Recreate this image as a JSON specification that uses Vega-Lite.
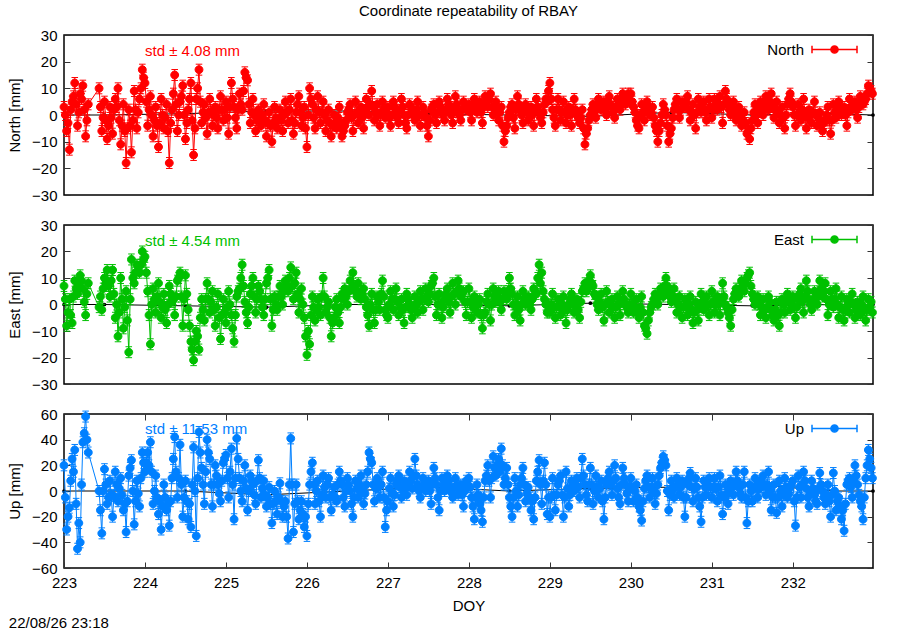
{
"$schema": "https://vega.github.io/schema/vega-lite/v6.json",
"background": "white",
"padding": {"left": 6, "top": 3, "right": 20, "bottom": 2},
"title": {"text": "22/08/26 23:18", "orient": "bottom", "anchor": "start", "frame": "bounds", "fontSize": 15, "fontWeight": "normal", "color": "#000", "offset": 2, "dx": 2},
"config": {
  "font": "Liberation Sans",
  "view": {"stroke": "#000", "strokeWidth": 1.5},
  "axis": {"labelFontSize": 15, "titleFontSize": 15, "titleFontWeight": "normal", "labelColor": "#000", "titleColor": "#000", "grid": false, "domain": false, "tickSize": -6, "tickColor": "#333", "tickWidth": 1, "labelPadding": 13, "titlePadding": 9, "labelFlush": false, "labelFont": "Liberation Sans", "titleFont": "Liberation Sans"},
  "legend": {"title": null, "orient": "none", "legendX": 747, "legendY": -9, "padding": 0, "symbolType": "M-1,0H1M-1,-0.17V0.17M1,-0.17V0.17M-0.16,0A0.16,0.16,0,1,0,0.16,0A0.16,0.16,0,1,0,-0.16,0Z", "symbolSize": 2025, "symbolStrokeWidth": 1.5, "labelFontSize": 15, "labelFont": "Liberation Sans", "labelColor": "#000", "labelAlign": "right", "labelOffset": -54},
  "concat": {"spacing": 30}
},
"bounds": "flush",
"resolve": {"scale": {"color": "independent"}, "legend": {"color": "independent"}},
"datasets": {
"ref": [{"t":223,"n":0,"e":0,"u":0},{"t":223.5,"n":0,"e":0,"u":0},{"t":224.5,"n":0.5,"e":-0.5,"u":0},{"t":225.5,"n":1.5,"e":-1,"u":-3},{"t":226.5,"n":1.5,"e":0,"u":0},{"t":227.5,"n":0.5,"e":0,"u":3},{"t":228.5,"n":0,"e":-0.5,"u":0},{"t":229.5,"n":-0.5,"e":0.5,"u":2},{"t":230.5,"n":1,"e":0,"u":3},{"t":231.5,"n":0,"e":-0.5,"u":5},{"t":232.5,"n":0.5,"e":0,"u":0},{"t":232.99,"n":0,"e":0,"u":0}],
"main": [
{"t":223.000,"n":3,"e":7,"u":20},{"t":223.017,"n":0,"e":2,"u":-5},{"t":223.033,"n":-6,"e":-8,"u":-30},{"t":223.050,"n":-3,"e":-3,"u":-20},{"t":223.067,"n":-13,"e":2,"u":-13},{"t":223.083,"n":2,"e":-4,"u":8},{"t":223.100,"n":5,"e":-7,"u":25},{"t":223.117,"n":7,"e":3,"u":15},{"t":223.133,"n":12,"e":9,"u":32},{"t":223.150,"n":4,"e":6,"u":-10},{"t":223.167,"n":-4,"e":4,"u":-45},{"t":223.183,"n":1,"e":8,"u":-25},{"t":223.200,"n":8,"e":11,"u":-40},{"t":223.217,"n":6,"e":9,"u":5},{"t":223.233,"n":11,"e":6,"u":38},{"t":223.250,"n":2,"e":1,"u":45},{"t":223.267,"n":-8,"e":-4,"u":58},{"t":223.283,"n":-2,"e":4,"u":40},{"t":223.300,"n":4,"e":8,"u":30},
{"t":223.433,"n":10,"e":-1,"u":0},{"t":223.450,"n":3,"e":3,"u":-15},{"t":223.467,"n":-6,"e":-2,"u":-33},{"t":223.483,"n":-1,"e":6,"u":0},{"t":223.500,"n":5,"e":10,"u":17},{"t":223.517,"n":-2,"e":8,"u":5},{"t":223.533,"n":-9,"e":13,"u":-10},{"t":223.550,"n":-4,"e":7,"u":-5},{"t":223.567,"n":3,"e":3,"u":8},{"t":223.583,"n":-1,"e":9,"u":-3},{"t":223.600,"n":-7,"e":13,"u":-20},{"t":223.617,"n":2,"e":4,"u":-4},{"t":223.633,"n":6,"e":-5,"u":15},{"t":223.650,"n":3,"e":0,"u":5},{"t":223.667,"n":10,"e":-12,"u":-8},{"t":223.683,"n":-2,"e":-3,"u":2},{"t":223.700,"n":-11,"e":10,"u":10},{"t":223.717,"n":-4,"e":2,"u":-3},{"t":223.733,"n":4,"e":-9,"u":-15},{"t":223.750,"n":-6,"e":-1,"u":-10},{"t":223.767,"n":-18,"e":5,"u":-32},{"t":223.783,"n":-5,"e":-6,"u":-8},{"t":223.800,"n":2,"e":-18,"u":12},{"t":223.817,"n":-4,"e":2,"u":18},{"t":223.833,"n":-14,"e":17,"u":24},{"t":223.850,"n":-2,"e":10,"u":0},{"t":223.867,"n":9,"e":8,"u":-26},{"t":223.883,"n":2,"e":12,"u":-8},{"t":223.900,"n":-5,"e":15,"u":8},{"t":223.917,"n":1,"e":13,"u":-2},{"t":223.933,"n":6,"e":12,"u":-12},{"t":223.950,"n":10,"e":15,"u":10},{"t":223.967,"n":17,"e":20,"u":30},{"t":223.983,"n":14,"e":17,"u":22},
{"t":224.000,"n":12,"e":18,"u":15},{"t":224.017,"n":5,"e":12,"u":22},{"t":224.033,"n":-4,"e":5,"u":30},{"t":224.050,"n":2,"e":-4,"u":20},{"t":224.067,"n":7,"e":-15,"u":38},{"t":224.083,"n":0,"e":0,"u":15},{"t":224.100,"n":-8,"e":6,"u":-10},{"t":224.117,"n":-2,"e":2,"u":0},{"t":224.133,"n":3,"e":-3,"u":12},{"t":224.150,"n":-4,"e":3,"u":-5},{"t":224.167,"n":-12,"e":8,"u":-18},{"t":224.183,"n":-3,"e":1,"u":-8},{"t":224.200,"n":6,"e":-5,"u":-30},{"t":224.217,"n":0,"e":-1,"u":-12},{"t":224.233,"n":-5,"e":4,"u":5},{"t":224.250,"n":-1,"e":-2,"u":-5},{"t":224.267,"n":4,"e":-7,"u":-15},{"t":224.283,"n":-6,"e":0,"u":-10},{"t":224.300,"n":-18,"e":7,"u":-27},{"t":224.317,"n":-3,"e":4,"u":-8},{"t":224.333,"n":2,"e":1,"u":10},{"t":224.350,"n":8,"e":2,"u":25},{"t":224.367,"n":15,"e":-4,"u":42},{"t":224.383,"n":4,"e":3,"u":15},{"t":224.400,"n":-6,"e":9,"u":-5},{"t":224.417,"n":0,"e":10,"u":10},{"t":224.433,"n":5,"e":12,"u":36},{"t":224.450,"n":7,"e":3,"u":5},{"t":224.467,"n":11,"e":-8,"u":-20},{"t":224.483,"n":0,"e":2,"u":-5},{"t":224.500,"n":-9,"e":11,"u":8},{"t":224.517,"n":-3,"e":4,"u":-8},{"t":224.533,"n":2,"e":-2,"u":-22},{"t":224.550,"n":6,"e":-8,"u":-10},{"t":224.567,"n":12,"e":-14,"u":-28},{"t":224.583,"n":-2,"e":-17,"u":5},{"t":224.600,"n":-15,"e":-21,"u":34},{"t":224.617,"n":-5,"e":-14,"u":0},{"t":224.633,"n":6,"e":-10,"u":-35},{"t":224.650,"n":10,"e":-12,"u":10},{"t":224.667,"n":17,"e":-17,"u":46},{"t":224.683,"n":5,"e":-5,"u":30},{"t":224.700,"n":-3,"e":2,"u":18},{"t":224.717,"n":1,"e":-2,"u":5},{"t":224.733,"n":4,"e":-6,"u":-10},{"t":224.750,"n":-1,"e":2,"u":15},{"t":224.767,"n":-7,"e":8,"u":40},{"t":224.783,"n":1,"e":2,"u":30},{"t":224.800,"n":6,"e":-3,"u":25},{"t":224.817,"n":1,"e":1,"u":5},{"t":224.833,"n":-4,"e":5,"u":-12},{"t":224.850,"n":0,"e":-2,"u":5},{"t":224.867,"n":3,"e":-8,"u":20},{"t":224.883,"n":-1,"e":-1,"u":12},{"t":224.900,"n":-5,"e":4,"u":5},{"t":224.917,"n":2,"e":-5,"u":-2},{"t":224.933,"n":7,"e":-13,"u":-8},{"t":224.950,"n":2,"e":-4,"u":8},{"t":224.967,"n":-2,"e":2,"u":22},{"t":224.983,"n":2,"e":-3,"u":25},
{"t":225.000,"n":5,"e":-7,"u":28},{"t":225.017,"n":-1,"e":-1,"u":10},{"t":225.033,"n":-7,"e":5,"u":-5},{"t":225.050,"n":3,"e":0,"u":15},{"t":225.067,"n":12,"e":-4,"u":33},{"t":225.083,"n":6,"e":-9,"u":5},{"t":225.100,"n":3,"e":-14,"u":-22},{"t":225.117,"n":-1,"e":-4,"u":10},{"t":225.133,"n":-5,"e":3,"u":41},{"t":225.150,"n":2,"e":5,"u":25},{"t":225.167,"n":8,"e":6,"u":10},{"t":225.183,"n":4,"e":10,"u":0},{"t":225.200,"n":2,"e":15,"u":-8},{"t":225.217,"n":9,"e":7,"u":8},{"t":225.233,"n":16,"e":1,"u":20},{"t":225.250,"n":14,"e":-3,"u":2},{"t":225.267,"n":13,"e":-7,"u":-15},{"t":225.283,"n":4,"e":-1,"u":0},{"t":225.300,"n":-3,"e":4,"u":12},{"t":225.317,"n":1,"e":7,"u":8},{"t":225.333,"n":6,"e":10,"u":5},{"t":225.350,"n":0,"e":3,"u":-3},{"t":225.367,"n":-6,"e":-3,"u":-10},{"t":225.383,"n":-2,"e":2,"u":8},{"t":225.400,"n":2,"e":7,"u":24},{"t":225.417,"n":-1,"e":5,"u":10},{"t":225.433,"n":-4,"e":2,"u":-5},{"t":225.450,"n":0,"e":-1,"u":2},{"t":225.467,"n":4,"e":-4,"u":8},{"t":225.483,"n":-2,"e":2,"u":-3},{"t":225.500,"n":-8,"e":8,"u":-12},{"t":225.517,"n":-3,"e":10,"u":-5},{"t":225.533,"n":1,"e":13,"u":3},{"t":225.550,"n":-4,"e":2,"u":-10},{"t":225.567,"n":-10,"e":-8,"u":-25},{"t":225.583,"n":-3,"e":-2,"u":-10},{"t":225.600,"n":3,"e":3,"u":0},{"t":225.617,"n":-1,"e":0,"u":-8},{"t":225.633,"n":-5,"e":-2,"u":-18},{"t":225.650,"n":-2,"e":3,"u":-5},{"t":225.667,"n":2,"e":7,"u":6},{"t":225.683,"n":-2,"e":3,"u":-8},{"t":225.700,"n":-6,"e":0,"u":-20},{"t":225.717,"n":0,"e":5,"u":-12},{"t":225.733,"n":5,"e":9,"u":-8},{"t":225.750,"n":1,"e":7,"u":-20},{"t":225.767,"n":-3,"e":5,"u":-37},{"t":225.783,"n":2,"e":10,"u":5},{"t":225.800,"n":6,"e":14,"u":41},{"t":225.817,"n":-2,"e":7,"u":5},{"t":225.833,"n":-7,"e":2,"u":-32},{"t":225.850,"n":-3,"e":8,"u":-10},{"t":225.867,"n":1,"e":12,"u":5},{"t":225.883,"n":4,"e":4,"u":-8},{"t":225.900,"n":7,"e":-3,"u":-22},{"t":225.917,"n":1,"e":2,"u":-15},{"t":225.933,"n":-4,"e":6,"u":-8},{"t":225.950,"n":-1,"e":0,"u":-18},{"t":225.967,"n":3,"e":-5,"u":-28},{"t":225.983,"n":-5,"e":-12,"u":-20},
{"t":226.000,"n":-12,"e":-19,"u":-35},{"t":226.017,"n":0,"e":-10,"u":-10},{"t":226.033,"n":10,"e":-15,"u":5},{"t":226.050,"n":6,"e":-4,"u":15},{"t":226.067,"n":4,"e":3,"u":22},{"t":226.083,"n":-1,"e":-1,"u":5},{"t":226.100,"n":-5,"e":-6,"u":-10},{"t":226.117,"n":2,"e":-2,"u":0},{"t":226.133,"n":7,"e":2,"u":8},{"t":226.150,"n":1,"e":-1,"u":-8},{"t":226.167,"n":-3,"e":-4,"u":-20},{"t":226.183,"n":1,"e":3,"u":-3},{"t":226.200,"n":5,"e":10,"u":12},{"t":226.217,"n":0,"e":3,"u":3},{"t":226.233,"n":-6,"e":-3,"u":-5},{"t":226.250,"n":-2,"e":-1,"u":5},{"t":226.267,"n":2,"e":1,"u":10},{"t":226.283,"n":-3,"e":-5,"u":-5},{"t":226.300,"n":-8,"e":-12,"u":-15},{"t":226.317,"n":-4,"e":-7,"u":-3},{"t":226.333,"n":0,"e":-5,"u":3},{"t":226.350,"n":-3,"e":-1,"u":-5},{"t":226.367,"n":-5,"e":2,"u":-8},{"t":226.383,"n":-1,"e":-3,"u":5},{"t":226.400,"n":3,"e":-7,"u":15},{"t":226.417,"n":-3,"e":-1,"u":8},{"t":226.433,"n":-8,"e":4,"u":5},{"t":226.450,"n":-6,"e":2,"u":-5},{"t":226.467,"n":-4,"e":6,"u":-12},{"t":226.483,"n":-2,"e":3,"u":0},{"t":226.500,"n":1,"e":0,"u":10},{"t":226.517,"n":2,"e":5,"u":5},{"t":226.533,"n":4,"e":9,"u":0},{"t":226.550,"n":-1,"e":6,"u":-10},{"t":226.567,"n":-6,"e":12,"u":-20},{"t":226.583,"n":0,"e":7,"u":-5},{"t":226.600,"n":5,"e":5,"u":8},{"t":226.617,"n":1,"e":3,"u":2},{"t":226.633,"n":-3,"e":8,"u":-5},{"t":226.650,"n":0,"e":4,"u":5},{"t":226.667,"n":3,"e":2,"u":12},{"t":226.683,"n":-1,"e":4,"u":0},{"t":226.700,"n":-5,"e":6,"u":-10},{"t":226.717,"n":1,"e":2,"u":-2},{"t":226.733,"n":6,"e":-1,"u":5},{"t":226.750,"n":3,"e":-4,"u":15},{"t":226.767,"n":0,"e":-8,"u":30},{"t":226.783,"n":4,"e":0,"u":25},{"t":226.800,"n":9,"e":4,"u":22},{"t":226.817,"n":3,"e":-2,"u":5},{"t":226.833,"n":-2,"e":-7,"u":-8},{"t":226.850,"n":1,"e":-2,"u":2},{"t":226.867,"n":4,"e":3,"u":10},{"t":226.883,"n":0,"e":1,"u":3},{"t":226.900,"n":-4,"e":-2,"u":-5},{"t":226.917,"n":1,"e":4,"u":5},{"t":226.933,"n":5,"e":9,"u":15},{"t":226.950,"n":2,"e":3,"u":-5},{"t":226.967,"n":-1,"e":-2,"u":-28},{"t":226.983,"n":1,"e":-4,"u":-15},
{"t":227.000,"n":3,"e":-5,"u":-8},{"t":227.017,"n":-1,"e":0,"u":2},{"t":227.033,"n":-4,"e":5,"u":10},{"t":227.050,"n":0,"e":2,"u":-2},{"t":227.067,"n":5,"e":-2,"u":-12},{"t":227.083,"n":3,"e":2,"u":-3},{"t":227.100,"n":1,"e":6,"u":5},{"t":227.117,"n":-1,"e":1,"u":8},{"t":227.133,"n":-3,"e":-4,"u":12},{"t":227.150,"n":2,"e":-1,"u":3},{"t":227.167,"n":6,"e":2,"u":-5},{"t":227.183,"n":3,"e":-2,"u":2},{"t":227.200,"n":0,"e":-7,"u":8},{"t":227.217,"n":-3,"e":-1,"u":2},{"t":227.233,"n":-5,"e":4,"u":-3},{"t":227.250,"n":0,"e":2,"u":5},{"t":227.267,"n":4,"e":0,"u":15},{"t":227.283,"n":3,"e":-2,"u":8},{"t":227.300,"n":2,"e":-5,"u":2},{"t":227.317,"n":0,"e":-1,"u":12},{"t":227.333,"n":-2,"e":3,"u":25},{"t":227.350,"n":2,"e":0,"u":12},{"t":227.367,"n":5,"e":-3,"u":5},{"t":227.383,"n":0,"e":1,"u":0},{"t":227.400,"n":-4,"e":5,"u":-5},{"t":227.417,"n":0,"e":2,"u":3},{"t":227.433,"n":3,"e":-2,"u":10},{"t":227.450,"n":1,"e":2,"u":5},{"t":227.467,"n":-1,"e":6,"u":0},{"t":227.483,"n":-4,"e":3,"u":4},{"t":227.500,"n":-8,"e":1,"u":8},{"t":227.517,"n":-2,"e":4,"u":0},{"t":227.533,"n":2,"e":7,"u":-10},{"t":227.550,"n":3,"e":8,"u":5},{"t":227.567,"n":4,"e":10,"u":18},{"t":227.583,"n":0,"e":3,"u":10},{"t":227.600,"n":-3,"e":-4,"u":5},{"t":227.617,"n":1,"e":0,"u":-5},{"t":227.633,"n":5,"e":4,"u":-15},{"t":227.650,"n":3,"e":0,"u":0},{"t":227.667,"n":1,"e":-5,"u":10},{"t":227.683,"n":0,"e":-1,"u":5},{"t":227.700,"n":-2,"e":2,"u":0},{"t":227.717,"n":2,"e":4,"u":6},{"t":227.733,"n":6,"e":6,"u":12},{"t":227.750,"n":4,"e":1,"u":8},{"t":227.767,"n":3,"e":-3,"u":3},{"t":227.783,"n":0,"e":3,"u":-1},{"t":227.800,"n":-3,"e":8,"u":-5},{"t":227.817,"n":2,"e":4,"u":3},{"t":227.833,"n":7,"e":0,"u":10},{"t":227.850,"n":4,"e":5,"u":4},{"t":227.867,"n":1,"e":9,"u":-3},{"t":227.883,"n":0,"e":6,"u":2},{"t":227.900,"n":-2,"e":3,"u":5},{"t":227.917,"n":2,"e":4,"u":-3},{"t":227.933,"n":5,"e":5,"u":-12},{"t":227.950,"n":3,"e":1,"u":0},{"t":227.967,"n":2,"e":-4,"u":8},{"t":227.983,"n":3,"e":1,"u":5},
{"t":228.000,"n":4,"e":6,"u":10},{"t":228.017,"n":1,"e":1,"u":3},{"t":228.033,"n":-2,"e":-5,"u":-5},{"t":228.050,"n":3,"e":-1,"u":-12},{"t":228.067,"n":6,"e":3,"u":-22},{"t":228.083,"n":4,"e":0,"u":-5},{"t":228.100,"n":1,"e":-3,"u":5},{"t":228.117,"n":3,"e":0,"u":-3},{"t":228.133,"n":5,"e":2,"u":-10},{"t":228.150,"n":1,"e":-4,"u":-15},{"t":228.167,"n":-3,"e":-9,"u":-24},{"t":228.183,"n":3,"e":-4,"u":-5},{"t":228.200,"n":7,"e":-3,"u":8},{"t":228.217,"n":5,"e":1,"u":12},{"t":228.233,"n":3,"e":4,"u":20},{"t":228.250,"n":6,"e":0,"u":8},{"t":228.267,"n":8,"e":-6,"u":-5},{"t":228.283,"n":3,"e":0,"u":10},{"t":228.300,"n":0,"e":6,"u":27},{"t":228.317,"n":3,"e":3,"u":18},{"t":228.333,"n":5,"e":1,"u":12},{"t":228.350,"n":1,"e":3,"u":20},{"t":228.367,"n":-2,"e":5,"u":25},{"t":228.383,"n":1,"e":1,"u":15},{"t":228.400,"n":3,"e":-2,"u":33},{"t":228.417,"n":-4,"e":2,"u":20},{"t":228.433,"n":-10,"e":5,"u":5},{"t":228.450,"n":-6,"e":3,"u":10},{"t":228.467,"n":-4,"e":2,"u":18},{"t":228.483,"n":-1,"e":5,"u":5},{"t":228.500,"n":1,"e":10,"u":-5},{"t":228.517,"n":3,"e":6,"u":-12},{"t":228.533,"n":4,"e":4,"u":-20},{"t":228.550,"n":-1,"e":0,"u":-5},{"t":228.567,"n":-5,"e":-4,"u":10},{"t":228.583,"n":2,"e":0,"u":0},{"t":228.600,"n":7,"e":3,"u":-12},{"t":228.617,"n":4,"e":-2,"u":-3},{"t":228.633,"n":2,"e":-6,"u":5},{"t":228.650,"n":0,"e":0,"u":10},{"t":228.667,"n":-3,"e":5,"u":18},{"t":228.683,"n":1,"e":2,"u":5},{"t":228.700,"n":4,"e":0,"u":-8},{"t":228.717,"n":1,"e":2,"u":-2},{"t":228.733,"n":-2,"e":3,"u":3},{"t":228.750,"n":0,"e":0,"u":-5},{"t":228.767,"n":3,"e":-2,"u":-15},{"t":228.783,"n":0,"e":2,"u":-8},{"t":228.800,"n":-4,"e":6,"u":-22},{"t":228.817,"n":2,"e":5,"u":-5},{"t":228.833,"n":6,"e":4,"u":8},{"t":228.850,"n":3,"e":10,"u":15},{"t":228.867,"n":1,"e":15,"u":24},{"t":228.883,"n":-1,"e":8,"u":5},{"t":228.900,"n":-3,"e":12,"u":-10},{"t":228.917,"n":1,"e":5,"u":8},{"t":228.933,"n":4,"e":2,"u":22},{"t":228.950,"n":6,"e":0,"u":5},{"t":228.967,"n":5,"e":-3,"u":-18},{"t":228.983,"n":9,"e":0,"u":-5},
{"t":229.000,"n":12,"e":-3,"u":-20},{"t":229.017,"n":6,"e":0,"u":-5},{"t":229.033,"n":2,"e":4,"u":10},{"t":229.050,"n":-1,"e":-1,"u":-3},{"t":229.067,"n":-4,"e":-5,"u":-15},{"t":229.083,"n":2,"e":-1,"u":-3},{"t":229.100,"n":6,"e":2,"u":5},{"t":229.117,"n":2,"e":-1,"u":8},{"t":229.133,"n":-2,"e":-4,"u":12},{"t":229.150,"n":1,"e":0,"u":-3},{"t":229.167,"n":5,"e":3,"u":-20},{"t":229.183,"n":1,"e":-2,"u":-5},{"t":229.200,"n":-3,"e":-7,"u":15},{"t":229.217,"n":0,"e":-2,"u":2},{"t":229.233,"n":3,"e":0,"u":-12},{"t":229.250,"n":0,"e":2,"u":-3},{"t":229.267,"n":-4,"e":4,"u":8},{"t":229.283,"n":2,"e":0,"u":5},{"t":229.300,"n":6,"e":-3,"u":0},{"t":229.317,"n":2,"e":0,"u":5},{"t":229.333,"n":0,"e":2,"u":10},{"t":229.350,"n":-1,"e":-2,"u":3},{"t":229.367,"n":-3,"e":-5,"u":-5},{"t":229.383,"n":-1,"e":1,"u":10},{"t":229.400,"n":2,"e":5,"u":25},{"t":229.417,"n":-5,"e":6,"u":12},{"t":229.433,"n":-11,"e":8,"u":5},{"t":229.450,"n":-7,"e":5,"u":-3},{"t":229.467,"n":-5,"e":6,"u":-8},{"t":229.483,"n":-2,"e":9,"u":5},{"t":229.500,"n":0,"e":11,"u":18},{"t":229.517,"n":2,"e":8,"u":5},{"t":229.533,"n":4,"e":7,"u":-10},{"t":229.550,"n":1,"e":4,"u":0},{"t":229.567,"n":-1,"e":3,"u":12},{"t":229.583,"n":3,"e":0,"u":3},{"t":229.600,"n":6,"e":-2,"u":-5},{"t":229.617,"n":4,"e":1,"u":2},{"t":229.633,"n":2,"e":4,"u":8},{"t":229.650,"n":4,"e":-1,"u":-8},{"t":229.667,"n":5,"e":-6,"u":-22},{"t":229.683,"n":2,"e":0,"u":-5},{"t":229.700,"n":0,"e":5,"u":5},{"t":229.717,"n":4,"e":1,"u":10},{"t":229.733,"n":7,"e":-3,"u":15},{"t":229.750,"n":4,"e":0,"u":5},{"t":229.767,"n":3,"e":2,"u":-3},{"t":229.783,"n":1,"e":-1,"u":8},{"t":229.800,"n":-1,"e":-5,"u":20},{"t":229.817,"n":3,"e":-1,"u":10},{"t":229.833,"n":6,"e":3,"u":2},{"t":229.850,"n":4,"e":0,"u":-5},{"t":229.867,"n":2,"e":-4,"u":-10},{"t":229.883,"n":5,"e":1,"u":5},{"t":229.900,"n":8,"e":5,"u":18},{"t":229.917,"n":6,"e":2,"u":10},{"t":229.933,"n":4,"e":0,"u":5},{"t":229.950,"n":6,"e":-1,"u":-2},{"t":229.967,"n":8,"e":-3,"u":-8},{"t":229.983,"n":5,"e":0,"u":3},
{"t":230.000,"n":8,"e":4,"u":10},{"t":230.017,"n":5,"e":0,"u":2},{"t":230.033,"n":3,"e":-3,"u":-8},{"t":230.050,"n":1,"e":-1,"u":0},{"t":230.067,"n":-2,"e":2,"u":5},{"t":230.083,"n":-4,"e":-2,"u":-5},{"t":230.100,"n":-5,"e":-5,"u":-12},{"t":230.117,"n":0,"e":-1,"u":-15},{"t":230.133,"n":4,"e":3,"u":-23},{"t":230.150,"n":1,"e":-3,"u":-8},{"t":230.167,"n":-2,"e":-8,"u":2},{"t":230.183,"n":2,"e":-9,"u":8},{"t":230.200,"n":5,"e":-11,"u":12},{"t":230.217,"n":2,"e":-6,"u":3},{"t":230.233,"n":0,"e":-3,"u":-5},{"t":230.250,"n":1,"e":-1,"u":3},{"t":230.267,"n":3,"e":0,"u":10},{"t":230.283,"n":-1,"e":2,"u":0},{"t":230.300,"n":-4,"e":4,"u":-10},{"t":230.317,"n":-6,"e":1,"u":-2},{"t":230.333,"n":-10,"e":0,"u":5},{"t":230.350,"n":-6,"e":3,"u":12},{"t":230.367,"n":-3,"e":6,"u":18},{"t":230.383,"n":0,"e":5,"u":22},{"t":230.400,"n":4,"e":3,"u":27},{"t":230.417,"n":2,"e":7,"u":24},{"t":230.433,"n":0,"e":10,"u":20},{"t":230.450,"n":-4,"e":7,"u":0},{"t":230.467,"n":-10,"e":5,"u":-15},{"t":230.483,"n":-7,"e":3,"u":-3},{"t":230.500,"n":-5,"e":1,"u":8},{"t":230.517,"n":-1,"e":3,"u":2},{"t":230.533,"n":2,"e":6,"u":-5},{"t":230.550,"n":4,"e":2,"u":3},{"t":230.567,"n":6,"e":-3,"u":10},{"t":230.583,"n":2,"e":0,"u":4},{"t":230.600,"n":-1,"e":3,"u":-3},{"t":230.617,"n":2,"e":-1,"u":3},{"t":230.633,"n":5,"e":-5,"u":8},{"t":230.650,"n":4,"e":-1,"u":-5},{"t":230.667,"n":3,"e":2,"u":-20},{"t":230.683,"n":5,"e":-1,"u":-5},{"t":230.700,"n":7,"e":-4,"u":5},{"t":230.717,"n":2,"e":0,"u":10},{"t":230.733,"n":-2,"e":3,"u":14},{"t":230.750,"n":1,"e":-2,"u":3},{"t":230.767,"n":4,"e":-7,"u":-8},{"t":230.783,"n":0,"e":-3,"u":2},{"t":230.800,"n":-5,"e":1,"u":10},{"t":230.817,"n":1,"e":-2,"u":3},{"t":230.833,"n":6,"e":-6,"u":-5},{"t":230.850,"n":3,"e":-1,"u":-12},{"t":230.867,"n":1,"e":4,"u":-24},{"t":230.883,"n":3,"e":1,"u":-5},{"t":230.900,"n":5,"e":-2,"u":8},{"t":230.917,"n":1,"e":0,"u":3},{"t":230.933,"n":-2,"e":3,"u":-3},{"t":230.950,"n":2,"e":0,"u":5},{"t":230.967,"n":6,"e":-4,"u":10},{"t":230.983,"n":3,"e":0,"u":3},
{"t":231.000,"n":-1,"e":5,"u":-5},{"t":231.017,"n":2,"e":1,"u":3},{"t":231.033,"n":6,"e":-3,"u":10},{"t":231.050,"n":4,"e":0,"u":2},{"t":231.067,"n":2,"e":3,"u":-8},{"t":231.083,"n":4,"e":0,"u":3},{"t":231.100,"n":7,"e":-4,"u":12},{"t":231.117,"n":3,"e":2,"u":-3},{"t":231.133,"n":-3,"e":8,"u":-18},{"t":231.150,"n":4,"e":3,"u":-5},{"t":231.167,"n":9,"e":0,"u":5},{"t":231.183,"n":6,"e":-1,"u":-3},{"t":231.200,"n":4,"e":-3,"u":-10},{"t":231.217,"n":2,"e":-5,"u":0},{"t":231.233,"n":0,"e":-8,"u":8},{"t":231.250,"n":3,"e":-2,"u":3},{"t":231.267,"n":5,"e":2,"u":-3},{"t":231.283,"n":1,"e":4,"u":5},{"t":231.300,"n":-2,"e":6,"u":15},{"t":231.317,"n":1,"e":4,"u":8},{"t":231.333,"n":3,"e":3,"u":3},{"t":231.350,"n":0,"e":6,"u":-2},{"t":231.367,"n":-4,"e":9,"u":-5},{"t":231.383,"n":-2,"e":7,"u":5},{"t":231.400,"n":1,"e":5,"u":15},{"t":231.417,"n":-3,"e":8,"u":-5},{"t":231.433,"n":-7,"e":10,"u":-25},{"t":231.450,"n":-6,"e":11,"u":-8},{"t":231.467,"n":-9,"e":12,"u":5},{"t":231.483,"n":-5,"e":7,"u":0},{"t":231.500,"n":-2,"e":4,"u":-8},{"t":231.517,"n":1,"e":2,"u":2},{"t":231.533,"n":4,"e":0,"u":10},{"t":231.550,"n":0,"e":2,"u":3},{"t":231.567,"n":-3,"e":3,"u":-5},{"t":231.583,"n":2,"e":0,"u":2},{"t":231.600,"n":5,"e":-4,"u":8},{"t":231.617,"n":2,"e":-1,"u":3},{"t":231.633,"n":0,"e":2,"u":12},{"t":231.650,"n":4,"e":-2,"u":5},{"t":231.667,"n":7,"e":-5,"u":-3},{"t":231.683,"n":4,"e":-1,"u":5},{"t":231.700,"n":2,"e":3,"u":15},{"t":231.717,"n":5,"e":1,"u":0},{"t":231.733,"n":8,"e":-2,"u":-15},{"t":231.750,"n":3,"e":-4,"u":-5},{"t":231.767,"n":-1,"e":-6,"u":5},{"t":231.783,"n":2,"e":-2,"u":-5},{"t":231.800,"n":5,"e":1,"u":-17},{"t":231.817,"n":1,"e":-4,"u":-5},{"t":231.833,"n":-3,"e":-8,"u":8},{"t":231.850,"n":0,"e":-3,"u":0},{"t":231.867,"n":3,"e":2,"u":-12},{"t":231.883,"n":-1,"e":0,"u":-3},{"t":231.900,"n":-5,"e":-3,"u":10},{"t":231.917,"n":0,"e":1,"u":3},{"t":231.933,"n":4,"e":4,"u":-5},{"t":231.950,"n":6,"e":1,"u":-2},{"t":231.967,"n":8,"e":-2,"u":3},{"t":231.983,"n":5,"e":1,"u":5},
{"t":232.000,"n":3,"e":3,"u":8},{"t":232.017,"n":0,"e":-1,"u":-8},{"t":232.033,"n":-4,"e":-5,"u":-27},{"t":232.050,"n":0,"e":-1,"u":-5},{"t":232.067,"n":4,"e":2,"u":12},{"t":232.083,"n":1,"e":4,"u":3},{"t":232.100,"n":-2,"e":6,"u":-5},{"t":232.117,"n":2,"e":1,"u":5},{"t":232.133,"n":6,"e":-3,"u":15},{"t":232.150,"n":0,"e":3,"u":8},{"t":232.167,"n":-5,"e":9,"u":2},{"t":232.183,"n":-1,"e":5,"u":-5},{"t":232.200,"n":2,"e":2,"u":-12},{"t":232.217,"n":0,"e":0,"u":-2},{"t":232.233,"n":-3,"e":-2,"u":8},{"t":232.250,"n":1,"e":2,"u":2},{"t":232.267,"n":5,"e":5,"u":-3},{"t":232.283,"n":0,"e":2,"u":-8},{"t":232.300,"n":-4,"e":0,"u":-10},{"t":232.317,"n":-1,"e":4,"u":2},{"t":232.333,"n":1,"e":9,"u":14},{"t":232.350,"n":-3,"e":6,"u":5},{"t":232.367,"n":-6,"e":3,"u":0},{"t":232.383,"n":-3,"e":5,"u":-5},{"t":232.400,"n":-2,"e":8,"u":-10},{"t":232.417,"n":0,"e":2,"u":-3},{"t":232.433,"n":3,"e":-4,"u":5},{"t":232.450,"n":-2,"e":0,"u":-8},{"t":232.467,"n":-7,"e":5,"u":-20},{"t":232.483,"n":-2,"e":2,"u":-3},{"t":232.500,"n":4,"e":-1,"u":14},{"t":232.517,"n":1,"e":2,"u":0},{"t":232.533,"n":-1,"e":6,"u":-15},{"t":232.550,"n":2,"e":0,"u":-8},{"t":232.567,"n":5,"e":-5,"u":-5},{"t":232.583,"n":2,"e":-1,"u":-12},{"t":232.600,"n":0,"e":3,"u":-22},{"t":232.617,"n":1,"e":-2,"u":-15},{"t":232.633,"n":3,"e":-6,"u":-31},{"t":232.650,"n":0,"e":-2,"u":-10},{"t":232.667,"n":-4,"e":2,"u":5},{"t":232.683,"n":1,"e":0,"u":8},{"t":232.700,"n":6,"e":-3,"u":10},{"t":232.717,"n":3,"e":1,"u":3},{"t":232.733,"n":2,"e":4,"u":-5},{"t":232.750,"n":4,"e":0,"u":8},{"t":232.767,"n":5,"e":-5,"u":20},{"t":232.783,"n":2,"e":-2,"u":12},{"t":232.800,"n":-1,"e":1,"u":5},{"t":232.817,"n":3,"e":-1,"u":-3},{"t":232.833,"n":7,"e":-4,"u":-8},{"t":232.850,"n":5,"e":0,"u":-12},{"t":232.867,"n":4,"e":3,"u":-22},{"t":232.883,"n":5,"e":-2,"u":-5},{"t":232.900,"n":6,"e":-6,"u":10},{"t":232.917,"n":8,"e":-2,"u":20},{"t":232.933,"n":11,"e":2,"u":32},{"t":232.950,"n":10,"e":-1,"u":25},{"t":232.967,"n":9,"e":1,"u":18},{"t":232.983,"n":8,"e":-3,"u":10}
]},
"vconcat": [
{
 "width": 809, "height": 160,
 "title": {"text": "Coordinate repeatability of RBAY", "fontSize": 15, "fontWeight": "normal", "color": "#000", "anchor": "middle", "offset": 7},
 "resolve": {"axis": {"y": "independent"}},
 "layer": [
  {"data": {"values": [{}]}, "mark": {"type": "text", "align": "left", "baseline": "middle", "fontSize": 15, "color": "#ff0000", "text": "std ± 4.08 mm"},
   "encoding": {"x": {"datum": 224.0, "type": "quantitative", "scale": {"domain": [223, 232.99], "nice": false, "zero": false}, "axis": null},
                "y": {"datum": 24, "type": "quantitative", "scale": {"domain": [-30, 30], "nice": false, "zero": false}, "axis": null}}},
  {"data": {"name": "ref"}, "mark": {"type": "line", "color": "#000", "strokeWidth": 1},
   "encoding": {"x": {"field": "t", "type": "quantitative", "scale": {"domain": [223, 232.99], "nice": false, "zero": false}, "axis": null},
                "y": {"field": "n", "type": "quantitative", "scale": {"domain": [-30, 30], "nice": false, "zero": false}, "axis": {"orient": "right", "labels": false, "title": null, "values": [-30,-20,-10,0,10,20,30]}}}},
  {"data": {"name": "ref"}, "mark": {"type": "point", "shape": "circle", "size": 14, "filled": true, "color": "#000", "opacity": 1},
   "encoding": {"x": {"field": "t", "type": "quantitative", "scale": {"domain": [223, 232.99], "nice": false, "zero": false}, "axis": null},
                "y": {"field": "n", "type": "quantitative", "scale": {"domain": [-30, 30], "nice": false, "zero": false}, "axis": null}}},
  {"data": {"name": "main"}, "mark": {"type": "line", "color": "#ff0000", "strokeWidth": 1},
   "encoding": {"x": {"field": "t", "type": "quantitative", "scale": {"domain": [223, 232.99], "nice": false, "zero": false}, "axis": null},
                "y": {"field": "n", "type": "quantitative", "scale": {"domain": [-30, 30], "nice": false, "zero": false}, "axis": null}}},
  {"data": {"name": "main"}, "mark": {"type": "point", "shape": "M-0.6,-1H0.6M-0.6,1H0.6M0,-1V1M-0.72,0A0.72,0.72,0,1,0,0.72,0A0.72,0.72,0,1,0,-0.72,0Z", "size": 120, "filled": true, "opacity": 1, "strokeWidth": 1},
   "encoding": {"x": {"field": "t", "type": "quantitative", "scale": {"domain": [223, 232.99], "nice": false, "zero": false}, "axis": null},
                "y": {"field": "n", "type": "quantitative", "scale": {"domain": [-30, 30], "nice": false, "zero": false}, "axis": {"orient": "left", "title": "North [mm]", "values": [-30,-20,-10,0,10,20,30]}},
                "stroke": {"value": "#ff0000"},
                "color": {"datum": "North", "scale": {"domain": ["North"], "range": ["#ff0000"]}, "legend": {"encode": {"symbols": {"update": {"fill": {"value": "#ff0000"}, "stroke": {"value": "#ff6060"}, "opacity": {"value": 1}}}}}}}}
 ]
},
{
 "width": 809, "height": 159,
 "resolve": {"axis": {"y": "independent"}},
 "layer": [
  {"data": {"values": [{}]}, "mark": {"type": "text", "align": "left", "baseline": "middle", "fontSize": 15, "color": "#00c000", "text": "std ± 4.54 mm"},
   "encoding": {"x": {"datum": 224.0, "type": "quantitative", "scale": {"domain": [223, 232.99], "nice": false, "zero": false}, "axis": null},
                "y": {"datum": 24, "type": "quantitative", "scale": {"domain": [-30, 30], "nice": false, "zero": false}, "axis": null}}},
  {"data": {"name": "ref"}, "mark": {"type": "line", "color": "#000", "strokeWidth": 1},
   "encoding": {"x": {"field": "t", "type": "quantitative", "scale": {"domain": [223, 232.99], "nice": false, "zero": false}, "axis": null},
                "y": {"field": "e", "type": "quantitative", "scale": {"domain": [-30, 30], "nice": false, "zero": false}, "axis": {"orient": "right", "labels": false, "title": null, "values": [-30,-20,-10,0,10,20,30]}}}},
  {"data": {"name": "ref"}, "mark": {"type": "point", "shape": "circle", "size": 14, "filled": true, "color": "#000", "opacity": 1},
   "encoding": {"x": {"field": "t", "type": "quantitative", "scale": {"domain": [223, 232.99], "nice": false, "zero": false}, "axis": null},
                "y": {"field": "e", "type": "quantitative", "scale": {"domain": [-30, 30], "nice": false, "zero": false}, "axis": null}}},
  {"data": {"name": "main"}, "mark": {"type": "line", "color": "#00c000", "strokeWidth": 1},
   "encoding": {"x": {"field": "t", "type": "quantitative", "scale": {"domain": [223, 232.99], "nice": false, "zero": false}, "axis": null},
                "y": {"field": "e", "type": "quantitative", "scale": {"domain": [-30, 30], "nice": false, "zero": false}, "axis": null}}},
  {"data": {"name": "main"}, "mark": {"type": "point", "shape": "M-0.6,-1H0.6M-0.6,1H0.6M0,-1V1M-0.72,0A0.72,0.72,0,1,0,0.72,0A0.72,0.72,0,1,0,-0.72,0Z", "size": 120, "filled": true, "opacity": 1, "strokeWidth": 1},
   "encoding": {"x": {"field": "t", "type": "quantitative", "scale": {"domain": [223, 232.99], "nice": false, "zero": false}, "axis": null},
                "y": {"field": "e", "type": "quantitative", "scale": {"domain": [-30, 30], "nice": false, "zero": false}, "axis": {"orient": "left", "title": "East [mm]", "values": [-30,-20,-10,0,10,20,30]}},
                "stroke": {"value": "#00c000"},
                "color": {"datum": "East", "scale": {"domain": ["East"], "range": ["#00c000"]}, "legend": {"encode": {"symbols": {"update": {"fill": {"value": "#00c000"}, "stroke": {"value": "#40d040"}, "opacity": {"value": 1}}}}}}}}
 ]
},
{
 "width": 809, "height": 154,
 "resolve": {"axis": {"y": "independent", "x": "independent"}},
 "layer": [
  {"data": {"values": [{}]}, "mark": {"type": "text", "align": "left", "baseline": "middle", "fontSize": 15, "color": "#0080ff", "text": "std ± 11.53 mm"},
   "encoding": {"x": {"datum": 224.0, "type": "quantitative", "scale": {"domain": [223, 232.99], "nice": false, "zero": false}, "axis": null},
                "y": {"datum": 48, "type": "quantitative", "scale": {"domain": [-60, 60], "nice": false, "zero": false}, "axis": null}}},
  {"data": {"name": "ref"}, "mark": {"type": "line", "color": "#000", "strokeWidth": 1},
   "encoding": {"x": {"field": "t", "type": "quantitative", "scale": {"domain": [223, 232.99], "nice": false, "zero": false}, "axis": {"orient": "top", "labels": false, "title": null, "values": [223,224,225,226,227,228,229,230,231,232]}},
                "y": {"field": "u", "type": "quantitative", "scale": {"domain": [-60, 60], "nice": false, "zero": false}, "axis": {"orient": "right", "labels": false, "title": null, "values": [-60,-40,-20,0,20,40,60]}}}},
  {"data": {"name": "ref"}, "mark": {"type": "point", "shape": "circle", "size": 14, "filled": true, "color": "#000", "opacity": 1},
   "encoding": {"x": {"field": "t", "type": "quantitative", "scale": {"domain": [223, 232.99], "nice": false, "zero": false}, "axis": null},
                "y": {"field": "u", "type": "quantitative", "scale": {"domain": [-60, 60], "nice": false, "zero": false}, "axis": null}}},
  {"data": {"name": "main"}, "mark": {"type": "line", "color": "#0080ff", "strokeWidth": 1},
   "encoding": {"x": {"field": "t", "type": "quantitative", "scale": {"domain": [223, 232.99], "nice": false, "zero": false}, "axis": null},
                "y": {"field": "u", "type": "quantitative", "scale": {"domain": [-60, 60], "nice": false, "zero": false}, "axis": null}}},
  {"data": {"name": "main"}, "mark": {"type": "point", "shape": "M-0.6,-1H0.6M-0.6,1H0.6M0,-1V1M-0.72,0A0.72,0.72,0,1,0,0.72,0A0.72,0.72,0,1,0,-0.72,0Z", "size": 120, "filled": true, "opacity": 1, "strokeWidth": 1},
   "encoding": {"x": {"field": "t", "type": "quantitative", "scale": {"domain": [223, 232.99], "nice": false, "zero": false}, "axis": {"orient": "bottom", "title": "DOY", "format": "d", "titlePadding": 8, "values": [223,224,225,226,227,228,229,230,231,232]}},
                "y": {"field": "u", "type": "quantitative", "scale": {"domain": [-60, 60], "nice": false, "zero": false}, "axis": {"orient": "left", "title": "Up [mm]", "values": [-60,-40,-20,0,20,40,60]}},
                "stroke": {"value": "#0080ff"},
                "color": {"datum": "Up", "scale": {"domain": ["Up"], "range": ["#0080ff"]}, "legend": {"encode": {"symbols": {"update": {"fill": {"value": "#0080ff"}, "stroke": {"value": "#50a8ff"}, "opacity": {"value": 1}}}}}}}}
 ]
}
]
}
